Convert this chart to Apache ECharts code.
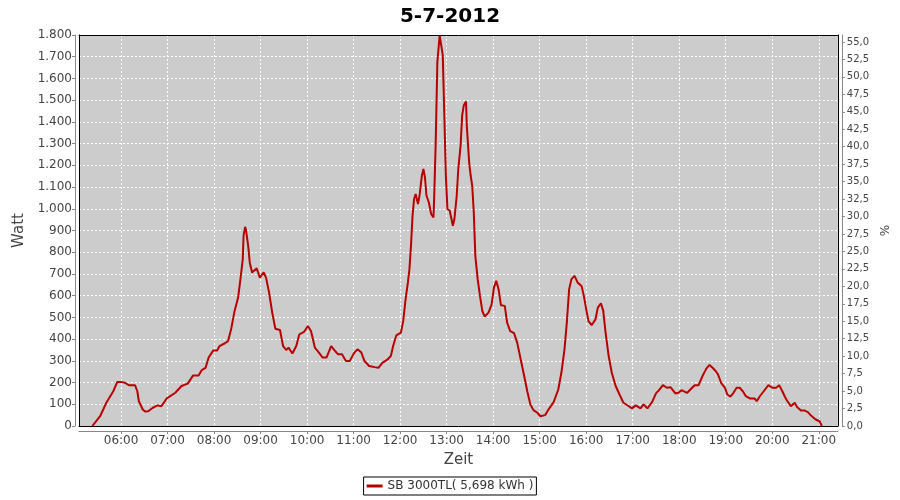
<!DOCTYPE html>
<html><head><meta charset="utf-8">
<script src="https://cdn.jsdelivr.net/npm/echarts@6/dist/echarts.min.js"></script>
<style>html,body{margin:0;padding:0;background:#fff}#c{width:900px;height:500px}</style>
</head><body><div id="c"></div>
<script>
const times = ['05:23','05:33','05:41','05:50','05:55','06:01','06:05','06:10','06:18','06:21','06:23','06:28','06:31','06:35','06:41','06:47','06:52','06:59',
'07:10','07:18','07:26','07:33','07:40','07:44','07:49','07:53','07:59','08:04','08:07','08:14','08:18','08:22','08:26','08:31','08:34','08:37','08:38','08:40','08:41','08:44','08:46','08:49','08:55','08:59',
'09:04','09:07','09:11','09:15','09:19','09:25','09:29','09:33','09:36','09:41','09:46','09:50','09:56','10:01','10:05','10:10','10:16','10:20','10:25','10:31','10:35','10:40','10:45','10:50','10:55',
'11:01','11:05','11:10','11:14','11:20','11:27','11:32','11:37','11:44','11:48','11:51','11:55','12:01','12:04','12:07','12:10','12:12','12:14','12:16','12:18','12:20','12:23','12:25','12:28','12:30','12:32','12:34','12:37','12:40','12:43','12:44','12:46','12:48','12:51','12:53','12:55','12:57','12:59',
'13:01','13:04','13:06','13:08','13:10','13:13','13:15','13:18','13:20','13:22','13:25','13:26','13:29','13:31','13:33','13:35','13:37','13:40','13:43','13:46','13:49','13:54','13:58',
'14:01','14:04','14:07','14:10','14:15','14:18','14:22','14:27','14:31','14:35','14:40','14:44','14:48','14:52','14:57','15:01','15:07','15:12','15:18','15:24','15:28','15:32','15:35','15:38','15:41','15:45','15:49','15:54','15:57',
'16:00','16:03','16:07','16:12','16:15','16:19','16:22','16:25','16:29','16:33','16:38','16:43','16:48','16:55','16:59','17:04','17:10','17:14','17:19','17:25','17:30','17:34','17:39','17:44','17:49','17:55','17:59',
'18:03','18:10','18:16','18:20','18:25','18:30','18:35','18:39','18:43','18:47','18:50','18:54','18:59','19:02','19:06','19:10','19:14','19:18','19:22','19:26','19:31','19:37','19:40','19:44','19:49','19:55',
'20:00','20:05','20:09','20:13','20:17','20:20','20:24','20:29','20:32','20:37','20:42','20:46','20:50','20:56','21:01','21:04'];
const watts = [0,45,107,160,202,202,199,188,188,160,114,76,67,68,84,95,91,127,
153,184,195,233,233,257,268,315,348,348,368,381,391,445,522,591,676,768,875,917,906,829,753,707,726,683,
707,683,614,522,448,442,368,350,361,334,368,422,433,460,437,361,334,315,315,368,350,330,330,299,299,
338,353,338,299,276,271,268,291,307,322,368,417,430,483,583,660,722,829,968,1045,1068,1022,1060,1152,1183,1145,1060,1030,976,960,1060,1321,1675,1798,1800,1706,1429,1152,
999,991,983,922,953,1060,1183,1291,1429,1475,1494,1383,1214,1152,1106,983,783,676,599,530,504,522,560,
637,668,630,556,553,476,437,427,384,315,230,160,99,73,61,45,50,79,110,168,245,353,476,630,676,691,660,645,599,
537,483,464,491,545,565,530,430,322,245,184,145,107,91,81,95,81,99,81,110,150,165,188,176,178,150,153,
165,152,174,188,188,230,264,281,268,253,238,199,176,145,135,153,176,176,160,137,127,127,114,137,160,188,
176,176,188,160,130,112,91,107,87,71,71,64,48,30,22,0];
const hourLabels = ['06:00','07:00','08:00','09:00','10:00','11:00','12:00','13:00','14:00','15:00','16:00','17:00','18:00','19:00','20:00','21:00'];
const wattTicks = [0,100,200,300,400,500,600,700,800,900,1000,1100,1200,1300,1400,1500,1600,1700,1800];
const pctTicks = [0,2.5,5,7.5,10,12.5,15,17.5,20,22.5,25,27.5,30,32.5,35,37.5,40,42.5,45,47.5,50,52.5,55];
const seriesName = 'SB 3000TL( 5,698 kWh )';
const chartTitle = '5-7-2012';

function toHours(t){const p=t.split(':').map(Number);return p[0]+p[1]/60;}
const hourTicks = hourLabels.map(toHours);
const data = times.map((t,i)=>[toHours(t), watts[i]]);
const XMIN = 5.096, XMAX = 21.41;
const FONT = 'DejaVu Sans';
const gray = '#888888';
const lbl = '#444444';
function thousands(v){return String(v).replace(/\B(?=(\d{3})+(?!\d))/g,'.');}
function border(pos, isX){
  const o = {type:'value', position:pos, offset:0, z:1, silent:true,
    axisLine:{show:true,onZero:false,lineStyle:{color:'#000',width:1}},
    axisTick:{show:false}, axisLabel:{show:false}, splitLine:{show:false}};
  if(isX){o.min=XMIN;o.max=XMAX;} else {o.min=0;o.max=1800;}
  return o;
}
const chart = echarts.init(document.getElementById('c'), null, {renderer:'canvas'});
chart.setOption({
  animation:false,
  backgroundColor:'#ffffff',
  title:{text:chartTitle,left:'center',top:2,textStyle:{fontFamily:FONT,fontSize:20,fontWeight:'bold',color:'#000'}},
  grid:{left:79,right:60,top:35,bottom:74,show:true,backgroundColor:'#cccccc',borderWidth:0},
  legend:{data:[{name:seriesName,icon:'rect'}],left:'center',top:477,padding:[3,3],itemWidth:16,itemHeight:3,
    borderColor:'#000',borderWidth:1,backgroundColor:'#fff',
    textStyle:{fontFamily:FONT,fontSize:12,color:'#333'}},
  xAxis:[
    {type:'value',min:XMIN,max:XMAX,position:'bottom',offset:5,
     axisLine:{show:true,onZero:false,lineStyle:{color:gray}},
     axisTick:{show:true,customValues:hourTicks,length:3,lineStyle:{color:gray}},
     axisLabel:{customValues:hourTicks,margin:4,fontFamily:FONT,fontSize:12,color:lbl,
       formatter:v=>{const i=hourTicks.indexOf(v);return i>=0?hourLabels[i]:'';}},
     splitLine:{show:true,lineStyle:{color:'#ffffff',width:1,type:[2,2]}},
     name:'Zeit',nameLocation:'middle',nameGap:22,
     nameTextStyle:{fontFamily:FONT,fontSize:15,color:lbl}},
    border('top',true),
    border('bottom',true)
  ],
  yAxis:[
    {type:'value',min:0,max:1800,interval:100,position:'left',offset:4,
     axisLine:{show:true,onZero:false,lineStyle:{color:gray}},
     axisTick:{show:true,length:3,lineStyle:{color:gray}},
     axisLabel:{customValues:wattTicks,margin:3,fontFamily:FONT,fontSize:12,color:lbl,formatter:v=>thousands(v)},
     splitLine:{show:true,lineStyle:{color:'#ffffff',width:1,type:[2,2]}},
     name:'Watt',nameLocation:'middle',nameGap:41,nameRotate:90,
     nameTextStyle:{fontFamily:FONT,fontSize:15,color:lbl}},
    {type:'value',min:0,max:56,position:'right',offset:4,
     axisLine:{show:true,onZero:false,lineStyle:{color:gray}},
     axisTick:{show:true,customValues:pctTicks,length:3,lineStyle:{color:gray}},
     axisLabel:{customValues:pctTicks,margin:5,fontFamily:FONT,fontSize:10,color:lbl,
       formatter:v=>v.toFixed(1).replace('.',',')},
     splitLine:{show:false},
     name:'%',nameLocation:'middle',nameGap:34,nameRotate:90,
     nameTextStyle:{fontFamily:FONT,fontSize:12,color:lbl}},
    border('left',false),
    border('right',false)
  ],
  series:[{name:seriesName,type:'line',xAxisIndex:0,yAxisIndex:0,data:data,
    symbol:'none',showSymbol:false,z:3,color:'#b80000',
    lineStyle:{color:'#b80000',width:2}}]
});
</script></body></html>
